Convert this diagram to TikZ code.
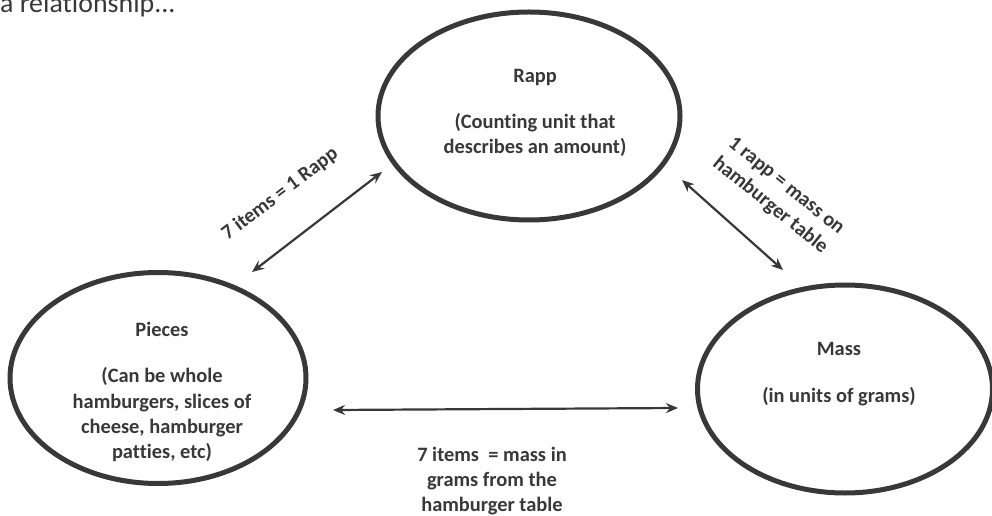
\documentclass[tikz,border=0pt]{standalone}
\usepackage{fontspec}
\setmainfont{Carlito}[Ligatures=NoCommon]
\usetikzlibrary{shapes.geometric,arrows.meta}
\definecolor{ink}{HTML}{383838}
\begin{document}
\begin{tikzpicture}[x=1bp,y=-1bp,
  oval/.style={ellipse, draw=ink, line width=5bp, inner sep=0pt},
  lbl/.style={font=\bfseries\fontsize{20.5}{25.5}\selectfont, text=ink, align=center, inner sep=0pt},
  link/.style={draw=ink, line width=2.2bp, {Stealth[length=12bp,width=10bp]}-{Stealth[length=12bp,width=10bp]}}]
\useasboundingbox (0,0) rectangle (992,516);
\clip (0,0) rectangle (992,516);
\node[anchor=base west, inner sep=0pt, text=ink, font=\fontsize{28}{33}\selectfont] (title) at (0,13) {a relationship...};
% ovals
\node[oval, minimum width=302bp, minimum height=208bp] (rapp) at (529,116) {};
\node[oval, minimum width=296bp, minimum height=211bp] (pieces) at (158,378) {};
\node[oval, minimum width=295bp, minimum height=208bp] (mass) at (845,389) {};
% oval texts
\node[lbl] (rapptxt) at (535,113) {Rapp\\[21bp](Counting unit that\\describes an amount)};
\node[lbl] (piecestxt) at (162,392) {Pieces\\[21bp](Can be whole\\hamburgers, slices of\\cheese, hamburger\\patties, etc)};
\node[lbl] (masstxt) at (839,374) {Mass\\[22bp](in units of grams)};
% connector ends
\coordinate (prA) at (252,272);
\coordinate (prB) at (382,172);
\coordinate (rmA) at (682,180);
\coordinate (rmB) at (783,270);
\coordinate (pmA) at (333,410);
\coordinate (pmB) at (678,408);
\draw[link] (prA) -- (prB);
\draw[link] (rmA) -- (rmB);
\draw[link] (pmA) -- (pmB);
% connector labels
\node[lbl, rotate=37] (prlbl) at (280,194) {7 items = 1 Rapp};
\node[lbl, rotate=-39] (rmlbl) at (778,196) {1 rapp = mass on\\hamburger table};
\node[lbl] (pmlbl) at (492,481) {7 items~ = mass in\\grams from the\\hamburger table};
\end{tikzpicture}
\end{document}
